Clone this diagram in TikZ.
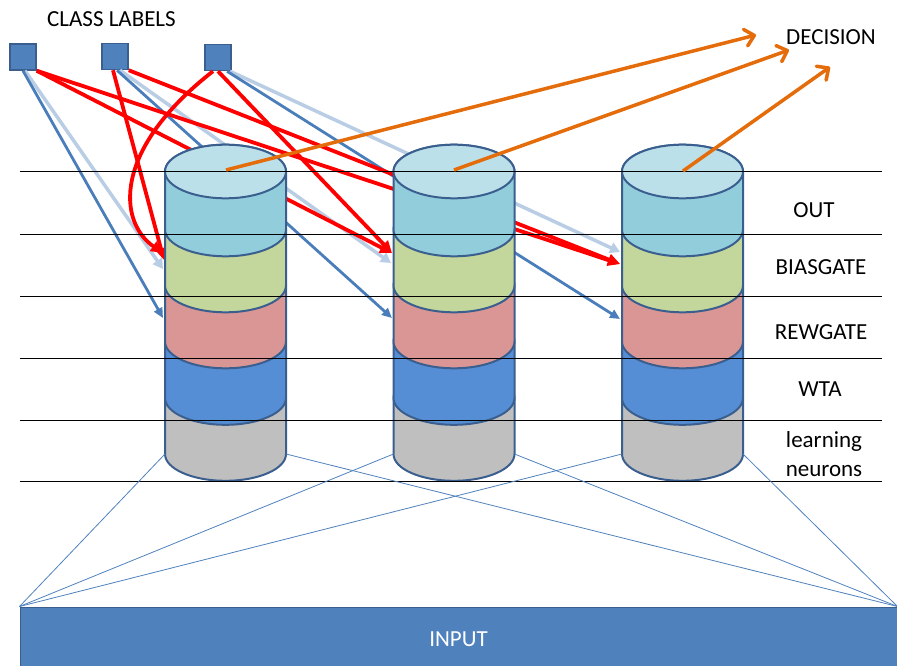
\documentclass[tikz,border=0pt]{standalone}
\usepackage{fontspec}
\setmainfont{Carlito}
\usetikzlibrary{arrows.meta}
\definecolor{topc}{HTML}{BCE0EA}
\definecolor{outc}{HTML}{92CDDC}
\definecolor{biasc}{HTML}{C3D69B}
\definecolor{rewc}{HTML}{D99694}
\definecolor{wtac}{HTML}{558ED5}
\definecolor{learnc}{HTML}{BFBFBF}
\definecolor{edgec}{HTML}{3A5F8F}
\definecolor{boxc}{HTML}{4F81BD}
\definecolor{dblue}{HTML}{4A7EBB}
\definecolor{lblue}{HTML}{B9CDE5}
\definecolor{orangec}{HTML}{E46C0A}
\newcommand\cyllayer[4]{%
  \filldraw[cylline, fill=#4] (#1-60.5,#2) -- (#1-60.5,#3)
    arc[start angle=180,end angle=360,x radius=60.5,y radius=26.8]
    -- (#1+60.5,#2)
    arc[start angle=0,end angle=180,x radius=60.5,y radius=26.8] -- cycle;}
\newcommand\stackcyl[1]{%
  \cyllayer{#1}{-398}{-454}{learnc}
  \cyllayer{#1}{-341.5}{-398}{wtac}
  \cyllayer{#1}{-285.5}{-341.5}{rewc}
  \cyllayer{#1}{-229.5}{-285.5}{biasc}
  \cyllayer{#1}{-171.5}{-229.5}{outc}
  \filldraw[cylline, fill=topc] (#1,-171.5) ellipse[x radius=60.5, y radius=26.8];}
\begin{document}
\begin{tikzpicture}[x=1pt,y=1pt,
  cylline/.style={draw=edgec, line width=2pt, line join=round},
  sq/.style={draw=edgec, fill=boxc, line width=1.5pt, minimum size=26pt, inner sep=0pt},
  lbl/.style={font=\fontsize{23}{28.7}\selectfont, inner sep=0pt, text=black},
  redarr/.style={draw=red, line width=3.8pt, -{Triangle[length=12pt,width=11pt]}},
  darr/.style={draw=dblue, line width=2.8pt, -{Triangle[length=10pt,width=9pt]}},
  larr/.style={draw=lblue, line width=3.5pt, -{Triangle[length=10pt,width=11pt]}},
  oarr/.style={draw=orangec, line width=3.5pt, -{Straight Barb[length=9pt,width=17pt,round]}},
  layerline/.style={draw=black, line width=1pt},
  fanline/.style={draw=boxc, line width=0.8pt},
  inputbox/.style={draw=edgec, fill=boxc, line width=1pt, minimum width=877pt, minimum height=64pt, inner sep=0pt, text=white, font=\fontsize{23}{28}\selectfont}
]
\useasboundingbox (0,0) rectangle (897,-666);

% class label squares
\node[sq] (s1) at (23,-57) {};
\node[sq] (s2) at (115,-56.5) {};
\node[sq] (s3) at (218,-57.5) {};
\node[lbl] (classlbl) at (111.5,-19) {CLASS LABELS};

% arrow targets
\coordinate (c1red1) at (163,-253);
\coordinate (c1red2) at (164,-260);
\coordinate (c1lb) at (163,-269);
\coordinate (c1db) at (163,-318);
\coordinate (c2red) at (392,-253);
\coordinate (c2lb) at (391,-263);
\coordinate (c2db) at (392,-318);
\coordinate (c3red) at (620,-264);
\coordinate (c3lb) at (620,-252);
\coordinate (c3db) at (620,-319);

% light blue arrows
\draw[larr] ([xshift=2pt]s1.south) -- (c1lb);
\draw[larr] ([xshift=5pt]s2.south) -- (c2lb);
\draw[larr] ([xshift=12pt]s3.south) -- (c3lb);
% dark blue arrows
\draw[darr] (s1.south) -- (c1db);
\draw[darr] ([xshift=2pt]s2.south) -- (c2db);
\draw[darr] ([xshift=9pt]s3.south) -- (c3db);
% red arrows
\draw[redarr] (s1.south east) -- (c2red);
\draw[redarr] (s1.south east) -- (c3red);
\draw[redarr] ([xshift=-2pt]s2.south) -- (c1red2);
\draw[redarr] (s2.south east) -- (c3red);
\draw[redarr] ([xshift=-5pt]s3.south) .. controls (112,-150) and (118,-222) .. (c1red1);
\draw[redarr] (s3.south) -- (c2red);

% cylinders
\stackcyl{225.5}
\stackcyl{454}
\stackcyl{682.5}

% layer lines
\foreach \yy in {172,234,296,358,420,481}
  \draw[layerline] (20,-\yy) -- (882,-\yy);

% input
\node[inputbox] (input) at (458.5,-639) {INPUT};
\coordinate (b1l) at (165,-454);
\coordinate (b1r) at (286,-454);
\coordinate (b2l) at (393.5,-454);
\coordinate (b2r) at (514.5,-454);
\coordinate (b3l) at (622,-454);
\coordinate (b3r) at (743,-454);
\foreach \t in {b1l,b2l,b3l}
  \draw[fanline] (input.north west) -- (\t);
\foreach \t in {b1r,b2r,b3r}
  \draw[fanline] (input.north east) -- (\t);

% decision arrows
\coordinate (t1) at (226,-170);
\coordinate (t2) at (454,-170);
\coordinate (t3) at (683,-171);
\coordinate (d1) at (756,-35);
\coordinate (d2) at (789,-50);
\coordinate (d3) at (830,-67);
\draw[oarr] (t1) -- (d1);
\draw[oarr] (t2) -- (d2);
\draw[oarr] (t3) -- (d3);
\node[lbl] (decision) at (831,-37) {DECISION};

% layer labels
\node[lbl] (out) at (814,-210.5) {OUT};
\node[lbl] (bias) at (821,-267) {BIASGATE};
\node[lbl] (rew) at (821,-332) {REWGATE};
\node[lbl] (wta) at (820,-389) {WTA};
\node[lbl, align=center] (learn) at (824,-454) {learning\\neurons};
\end{tikzpicture}
\end{document}
